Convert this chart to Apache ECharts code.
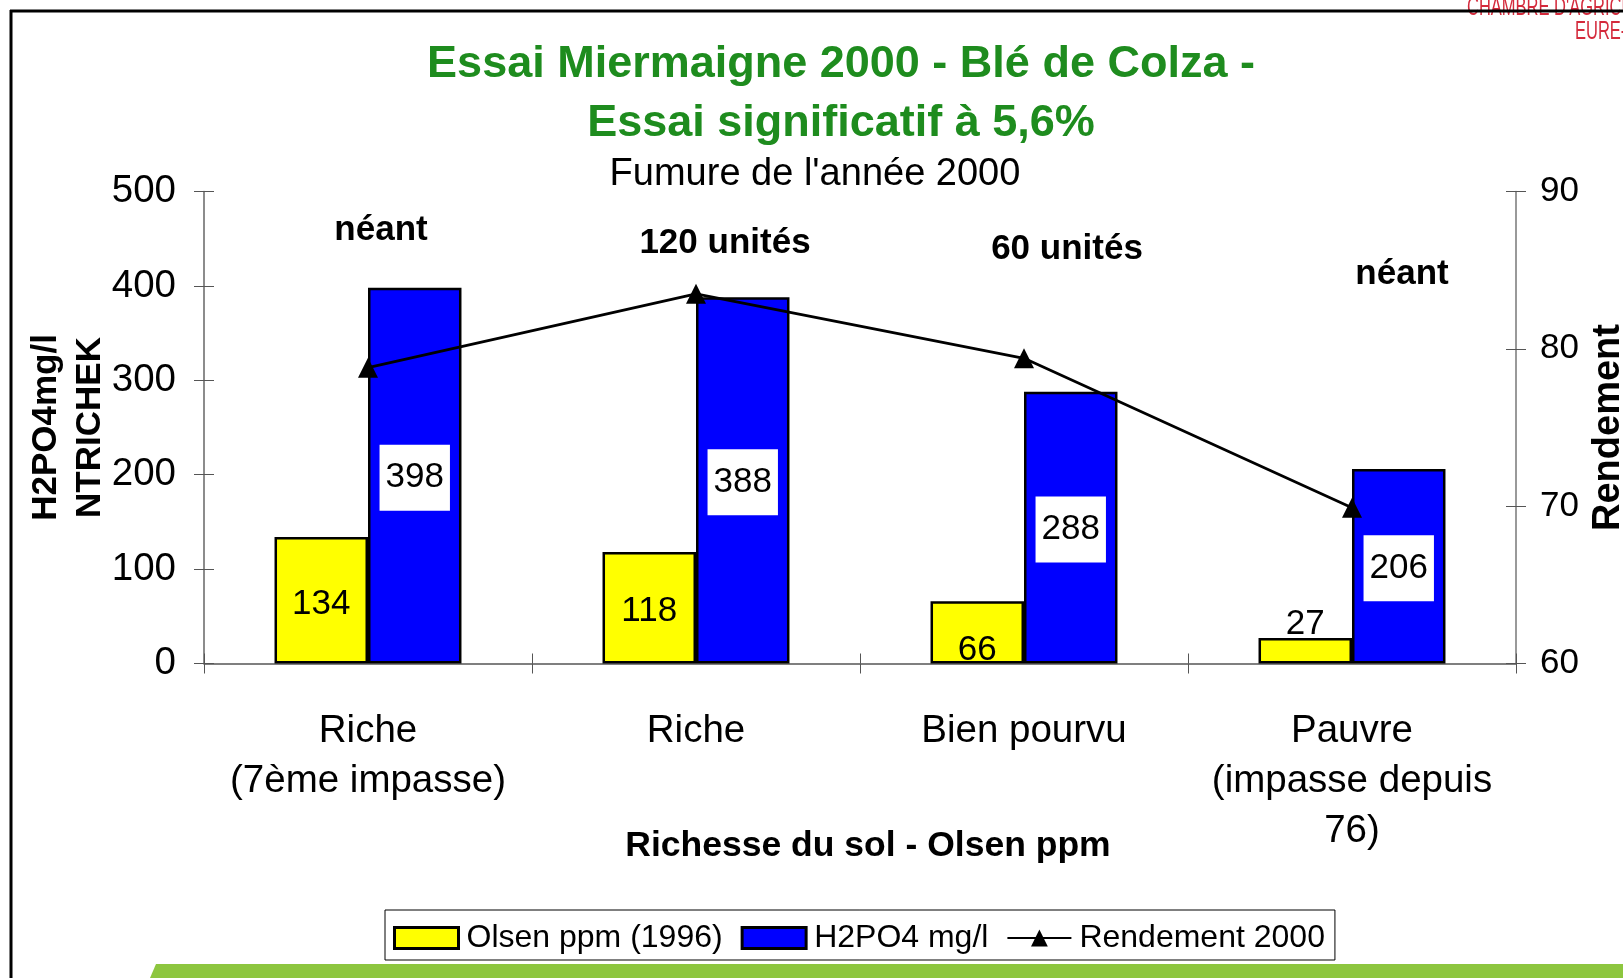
<!DOCTYPE html>
<html><head><meta charset="utf-8">
<script src="https://cdn.jsdelivr.net/npm/echarts@6/dist/echarts.min.js"></script>
<style>html,body{margin:0;padding:0;background:#fff}#c{width:1623px;height:978px}</style>
</head><body><div id="c"></div>
<script>
const categories = ['Riche\n(7ème impasse)', 'Riche', 'Bien pourvu', 'Pauvre\n(impasse depuis\n76)'];
const olsen = [134, 118, 66, 27];
const h2po4 = [398, 388, 288, 206];
const rendement = [78.8, 83.5, 79.4, 69.9];
const fumure = ['néant', '120 unités', '60 unités', 'néant'];
const seriesNames = ['Olsen ppm (1996)', 'H2PO4 mg/l', 'Rendement 2000'];
const leftAxis = {min: 0, max: 500, interval: 100};
const rightAxis = {min: 60, max: 90, interval: 10};

const FONT = '"Liberation Sans", Arial, sans-serif';
const chart = echarts.init(document.getElementById('c'));

const olsenItems = olsen.map((v) => {
  const it = {value: v};
  if (v < 40) it.label = {position: 'top', distance: 0, offset: [0, 4]};
  else if (v < 80) it.label = {position: 'insideBottom', distance: 0, offset: [0, 4]};
  return it;
});

const option = {
  backgroundColor: '#fff',
  animation: false,
  textStyle: {fontFamily: FONT},
  title: [{
    text: 'Essai Miermaigne 2000 - Blé de Colza -\nEssai significatif à 5,6%',
    left: 836, top: 30, textAlign: 'center',
    textStyle: {color: '#1E8C1E', fontSize: 45, fontWeight: 'bold', lineHeight: 59, fontFamily: FONT}
  }, {
    text: "Fumure de l'année 2000",
    left: 810, top: 151, textAlign: 'center',
    textStyle: {color: '#000', fontSize: 38, fontWeight: 'normal', fontFamily: FONT}
  }],
  legend: {
    left: 385, top: 910,
    padding: [12, 10, 6, 8],
    borderColor: '#000', borderWidth: 1, backgroundColor: '#fff',
    itemWidth: 64, itemHeight: 21, itemGap: 18,
    textStyle: {fontSize: 32, color: '#000', fontFamily: FONT, padding: [0, 0, 0, 3]},
    data: [
      {name: seriesNames[0], icon: 'rect', itemStyle: {borderWidth: 3}},
      {name: seriesNames[1], icon: 'rect', itemStyle: {borderWidth: 3}},
      {name: seriesNames[2]}
    ]
  },
  grid: {left: 204, right: 107, top: 191.5, bottom: 314.5, outerBoundsMode: 'none', containLabel: false},
  xAxis: [{
    type: 'category', data: categories,
    axisLine: {lineStyle: {color: '#555', width: 1.5}},
    axisTick: {show: true, length: 10, lineStyle: {color: '#555'}},
    axisLabel: {fontSize: 38.5, color: '#000', lineHeight: 50, margin: 43, interval: 0},
    name: 'Richesse du sol - Olsen ppm', nameLocation: 'middle', nameGap: 165, nameMoveOverlap: false,
    nameTextStyle: {fontSize: 35.5, fontWeight: 'bold', color: '#000', padding: [0, 0, 0, 16]}
  }, {
    type: 'category', data: categories, position: 'bottom',
    axisLine: {show: false}, axisLabel: {show: false},
    axisTick: {show: true, inside: true, length: 10, lineStyle: {color: '#555'}}
  }],
  yAxis: [{
    type: 'value', min: leftAxis.min, max: leftAxis.max, interval: leftAxis.interval,
    axisLine: {show: true, lineStyle: {color: '#666', width: 1.5}},
    axisTick: {show: true, length: 10, lineStyle: {color: '#555'}},
    axisLabel: {fontSize: 38.5, color: '#000', margin: 28},
    splitLine: {show: false},
    name: 'H2PO4mg/l\nNTRICHEK', nameLocation: 'middle', nameGap: 92, nameRotate: 90, nameMoveOverlap: false,
    nameTextStyle: {fontSize: 35, fontWeight: 'bold', color: '#000', lineHeight: 44}
  }, {
    type: 'value', min: rightAxis.min, max: rightAxis.max, interval: rightAxis.interval,
    position: 'right',
    axisLine: {show: true, lineStyle: {color: '#777', width: 1.5}},
    axisTick: {show: true, length: 10, lineStyle: {color: '#555'}},
    axisLabel: {fontSize: 35, color: '#000', margin: 24},
    splitLine: {show: false},
    name: 'Rendement', nameLocation: 'middle', nameGap: 72, nameRotate: 90,
    nameTextStyle: {fontSize: 38, fontWeight: 'bold', color: '#000', verticalAlign: 'top'}
  }, {
    type: 'value', min: leftAxis.min, max: leftAxis.max, interval: leftAxis.interval,
    position: 'left', axisLine: {show: false}, axisLabel: {show: false}, splitLine: {show: false},
    axisTick: {show: true, inside: true, length: 10, lineStyle: {color: '#555'}}
  }, {
    type: 'value', min: rightAxis.min, max: rightAxis.max, interval: rightAxis.interval,
    position: 'right', axisLine: {show: false}, axisLabel: {show: false}, splitLine: {show: false},
    axisTick: {show: true, inside: true, length: 10, lineStyle: {color: '#555'}}
  }],
  series: [{
    name: seriesNames[0], type: 'bar', data: olsenItems,
    barWidth: '28.5%', barGap: '0%',
    itemStyle: {color: '#FFFF00', borderColor: '#000', borderWidth: 2.5},
    label: {show: true, position: 'inside', fontSize: 35, color: '#000', offset: [0, 4]}
  }, {
    name: seriesNames[1], type: 'bar', data: h2po4,
    barWidth: '28.5%', barGap: '0%',
    itemStyle: {color: '#0000FF', borderColor: '#000', borderWidth: 2.5},
    label: {show: true, position: 'inside', fontSize: 35, color: '#000',
      backgroundColor: '#fff', padding: [16, 6, 15, 6], offset: [0, 2]}
  }, {
    name: seriesNames[2], type: 'line', yAxisIndex: 1, data: rendement,
    symbol: 'triangle', symbolSize: 20,
    lineStyle: {color: '#000', width: 2.8}, itemStyle: {color: '#000'}, z: 5
  }]
};
chart.setOption(option);

// annotations & decoration
const fumureX = [381, 725, 1067, 1402];
const fumureY = [230, 243, 249, 274];
const redFont = '25px "Liberation Sans Narrow", "Liberation Sans", Arial';
const g = [];
g.push({type: 'text', x: 1467, y: -4, scaleX: 0.66, style: {text: "CHAMBRE D'AGRICULTURE", fill: '#D42A3C', font: redFont}, z: 1});
g.push({type: 'text', x: 1575, y: 20, scaleX: 0.66, style: {text: 'EURE-', fill: '#D42A3C', font: redFont}, z: 1});
g.push({type: 'line', shape: {x1: 10, y1: 11, x2: 1623, y2: 11}, style: {stroke: '#000', lineWidth: 3}, z: 10});
g.push({type: 'line', shape: {x1: 11, y1: 10, x2: 11, y2: 978}, style: {stroke: '#000', lineWidth: 3}, z: 10});
g.push({type: 'polygon', shape: {points: [[150, 978], [156, 964], [1623, 964], [1623, 978]]}, style: {fill: '#8DC63F'}, z: 1});
fumure.forEach((t, i) => {
  g.push({type: 'text', x: fumureX[i], y: fumureY[i], style: {text: t, fill: '#000', font: 'bold 35px "Liberation Sans", Arial', align: 'center', verticalAlign: 'middle'}, z: 10});
});
chart.setOption({graphic: g});
</script></body></html>
